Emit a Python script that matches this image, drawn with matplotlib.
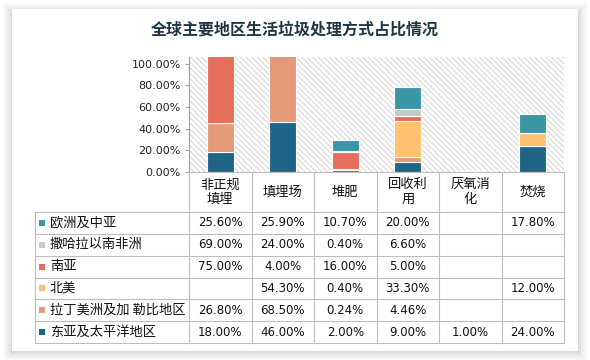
import matplotlib
matplotlib.use("Agg")
import matplotlib.pyplot as plt
from matplotlib.patches import Rectangle
from matplotlib.lines import Line2D
import numpy as np

plt.rcParams['font.family'] = ['Noto Sans CJK SC', 'DejaVu Sans']
plt.rcParams['hatch.linewidth'] = 0.5
plt.rcParams['hatch.color'] = '#C2C2C2'

# ---------------- data ----------------
title = '全球主要地区生活垃圾处理方式占比情况'
categories = ['非正规\n填埋', '填埋场', '堆肥', '回收利\n用', '厌氧消\n化', '焚烧']
# stack order bottom -> top
regions = ['东亚及太平洋地区', '拉丁美洲及加 勒比地区', '北美', '南亚', '撒哈拉以南非洲', '欧洲及中亚']
east_asia = [18.00, 46.00, 2.00, 9.00, 1.00, 24.00]
latin_america = [26.80, 68.50, 0.24, 4.46, None, None]
north_america = [None, 54.30, 0.40, 33.30, None, 12.00]
south_asia = [75.00, 4.00, 16.00, 5.00, None, None]
sub_saharan = [69.00, 24.00, 0.40, 6.60, None, None]
europe_central_asia = [25.60, 25.90, 10.70, 20.00, None, 17.80]
series = [east_asia, latin_america, north_america, south_asia, sub_saharan, europe_central_asia]
colors = ['#1E6587', '#E49A78', '#FDC16F', '#E66E5C', '#C9C9C9', '#3A98A6']
yticks = [0, 20, 40, 60, 80, 100]

W, H = 590, 360
fig = plt.figure(figsize=(W / 100, H / 100), dpi=100)
fig.patch.set_facecolor('white')

def fx(x):
    return x / W

def fy(y):
    return 1 - y / H

# card shadow + card
for i, a in enumerate([0.05, 0.06, 0.08, 0.10, 0.12]):
    d = 9 - i * 2
    fig.patches.append(Rectangle((fx(12 - d), fy(352 + d)), fx(566 + 2 * d), (340 + 2 * d) / H,
                                 transform=fig.transFigure, facecolor='#9A9A9A', alpha=a,
                                 edgecolor='none', zorder=0))
fig.patches.append(Rectangle((fx(12), fy(351)), fx(566), 342 / H, transform=fig.transFigure,
                             facecolor='white', edgecolor='none', zorder=1))

fig.text(fx(295), fy(30), title, ha='center', va='center', fontsize=11.5,
         fontweight='bold', color='#1F3646', zorder=5)

# ---------------- bars ----------------
left, right, top, bottom = 189, 564, 57, 172
ax = fig.add_axes([fx(left), fy(bottom), fx(right - left), (bottom - top) / H])
ax.set_zorder(3)
ax.patch.set_alpha(0)
ax.add_patch(Rectangle((0, 0), 1, 1, transform=ax.transAxes, facecolor='white',
                       edgecolor='#C2C2C2', hatch='\\\\\\\\\\\\', linewidth=0, zorder=0))
x = np.arange(len(categories))
base = np.zeros(len(categories))
for vals, c in zip(series, colors):
    v = np.array([0 if a is None else a for a in vals], dtype=float)
    ax.bar(x, v, bottom=base, width=0.43, color=c, edgecolor='white', linewidth=0.8, zorder=2)
    base += v
ax.set_xlim(-0.5, len(categories) - 0.5)
ax.set_ylim(0, 106)
ax.set_yticks(yticks)
ax.set_yticklabels([f'{t:.2f}%' for t in yticks], fontsize=8, color='#222222',
                   family=['DejaVu Sans'])
ax.set_xticks([])
for s in ['top', 'right', 'bottom']:
    ax.spines[s].set_visible(False)
ax.spines['left'].set_color('#A0A0A0')
ax.spines['left'].set_linewidth(0.8)
ax.tick_params(axis='y', length=3, color='#A0A0A0', pad=3)

# ---------------- table ----------------
col_w = (right - left) / len(categories)
header_bottom = 212
row_h = (343 - header_bottom) / len(regions)
label_left = 35
lc = '#BDBDBD'

def hline(y, x0, x1):
    fig.add_artist(Line2D([fx(x0), fx(x1)], [fy(y), fy(y)], transform=fig.transFigure,
                          color=lc, linewidth=0.8, zorder=4))

def vline(x, y0, y1):
    fig.add_artist(Line2D([fx(x), fx(x)], [fy(y0), fy(y1)], transform=fig.transFigure,
                          color=lc, linewidth=0.8, zorder=4))

hline(bottom, left, right)
for i in range(len(regions) + 1):
    hline(header_bottom + i * row_h, label_left, right)
for j in range(len(categories) + 1):
    vline(left + j * col_w, bottom, 343)
vline(label_left, header_bottom, 343)

for j, cat in enumerate(categories):
    fig.text(fx(left + (j + 0.5) * col_w), fy((bottom + header_bottom) / 2), cat,
             ha='center', va='center', fontsize=9.5, color='#111111', linespacing=1.15, zorder=5)

table_rows = list(zip(regions, series, colors))[::-1]
for i, (name, vals, c) in enumerate(table_rows):
    yc = header_bottom + (i + 0.5) * row_h
    fig.patches.append(Rectangle((fx(39), fy(yc + 3)), fx(6), 6 / H, transform=fig.transFigure,
                                 facecolor=c, edgecolor='none', zorder=5))
    fig.text(fx(50), fy(yc), name, ha='left', va='center', fontsize=9.5, color='#111111', zorder=5)
    for j, v in enumerate(vals):
        if v is None:
            continue
        fig.text(fx(left + (j + 0.5) * col_w), fy(yc), f'{v:.2f}%', ha='center', va='center',
                 fontsize=8.5, color='#111111', family=['DejaVu Sans'], zorder=5)

fig.savefig('out.png', dpi=100, facecolor=fig.get_facecolor())
